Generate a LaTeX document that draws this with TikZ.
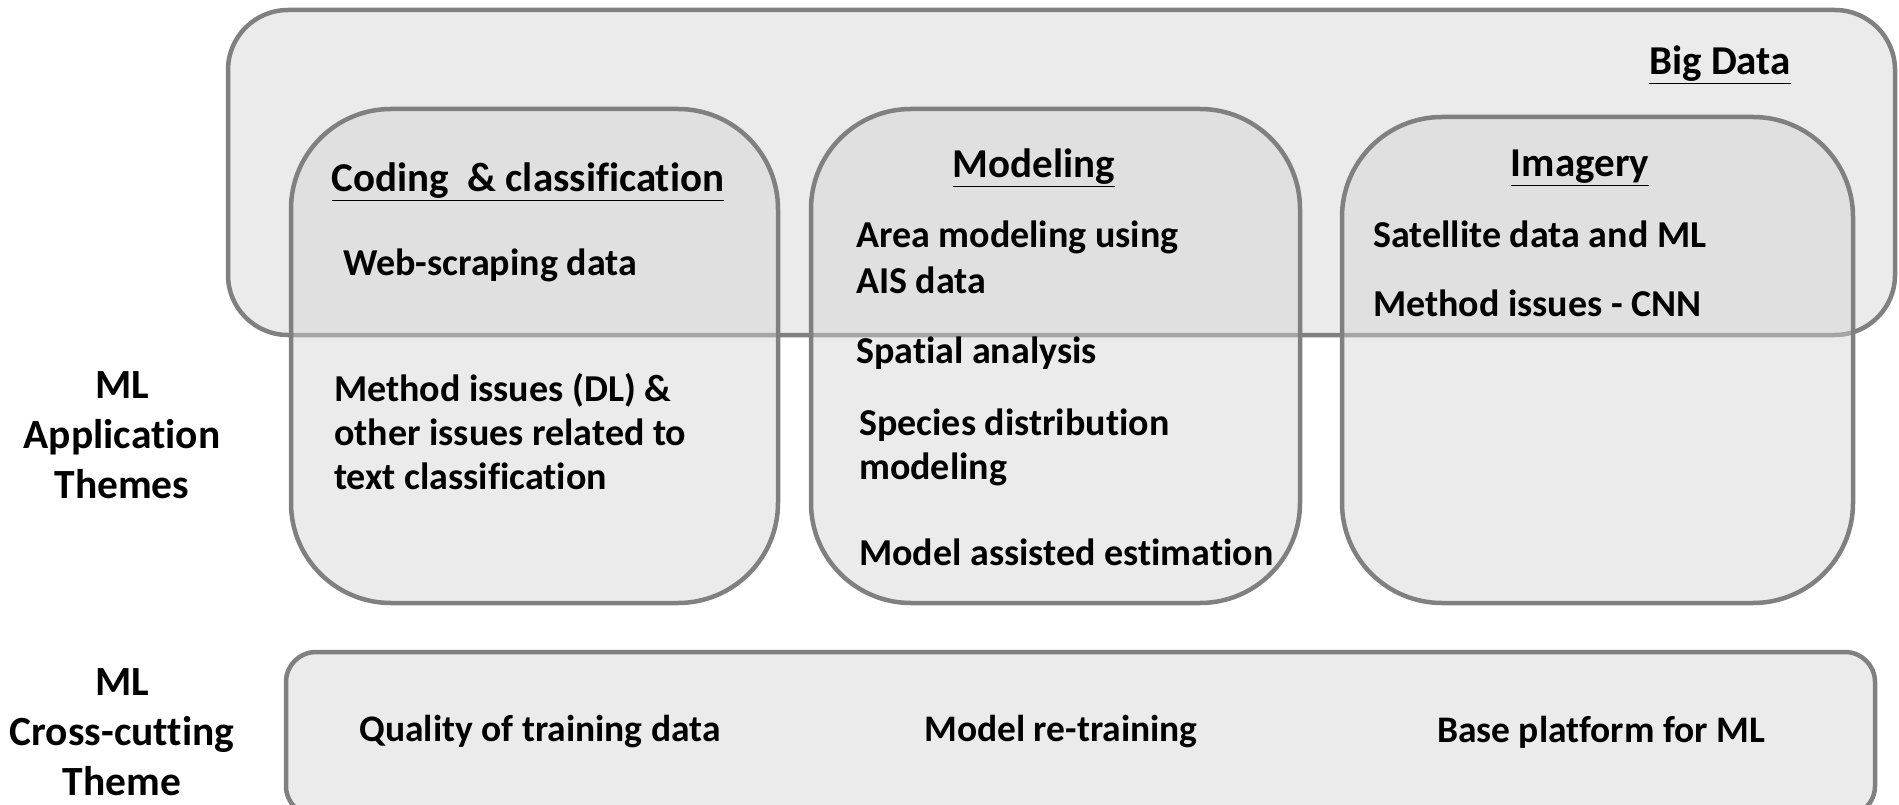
\documentclass[tikz,border=0pt]{standalone}
\usepackage{fontspec}
\setmainfont{Carlito}[Ligatures={NoCommon}]
\definecolor{boxline}{RGB}{128,128,128}
\definecolor{bgfill}{RGB}{235,235,235}
\definecolor{innerfill}{RGB}{211,211,211}
\begin{document}
\begin{tikzpicture}[x=1pt,y=-1pt,
  bigbox/.style={draw=boxline, line width=4.5pt, fill=bgfill, rounded corners=60pt, inner sep=0pt},
  inbox/.style={draw=boxline, line width=4.5pt, fill=innerfill, fill opacity=0.45, draw opacity=1, rounded corners=100pt, inner sep=0pt},
  crossbox/.style={draw=boxline, line width=4.5pt, fill=bgfill, rounded corners=30pt, inner sep=0pt},
  txt/.style={font=\fontsize{38}{44}\selectfont\bfseries, anchor=west, inner sep=0pt, align=left},
  ctxt/.style={font=\fontsize{37.5}{44}\selectfont\bfseries, inner sep=0pt},
  ttl/.style={font=\fontsize{41}{48}\selectfont\bfseries, inner sep=0pt},
  lbl/.style={font=\fontsize{41.5}{50}\selectfont\bfseries, align=center, inner sep=0pt}]
\useasboundingbox (0,0) rectangle (1899,805);
\clip (0,0) rectangle (1899,805);

% Big Data box
\node[bigbox, minimum width=1667pt, minimum height=325pt] (bigdata) at (1061.5,172.5) {};
\node[ttl] (bigdatat) at (1720,65) {\underline{Big Data}};

% inner theme boxes
\node[inbox, minimum width=487pt, minimum height=494pt] (coding) at (534.5,356) {};
\node[inbox, minimum width=489pt, minimum height=494pt] (modeling) at (1055.5,356) {};
\node[inbox, minimum width=511pt, minimum height=486pt] (imagery) at (1597.5,360) {};

% cross-cutting box
\node[crossbox, minimum width=1589pt, minimum height=164pt] (cross) at (1080.5,734) {};

% titles
\node[ttl] (codingt) at (528,182) {\underline{Coding\ \ \& classification}};
\node[ttl] (modelingt) at (1034,168) {\underline{Modeling}};
\node[ttl] (imageryt) at (1580,168) {\underline{Imagery}};

% coding items
\node[txt] (web) at (343,265) {Web-scraping data};
\node[txt] (methdl) at (334,432) {Method issues (DL) \&\\other issues related to\\text classification};

% modeling items
\node[txt, font=\fontsize{38}{46}\selectfont\bfseries] (area) at (856,257) {Area modeling using\\AIS data};
\node[txt] (spatial) at (856,353) {Spatial analysis};
\node[txt] (species) at (859,447) {Species distribution\\modeling};
\node[txt] (mae) at (859,552) {Model assisted estimation};

% imagery items
\node[txt] (sat) at (1373,234) {Satellite data and ML};
\node[txt] (cnn) at (1373,303) {Method issues - CNN};

% cross-cutting items
\node[ctxt] (quality) at (540,732) {Quality of training data};
\node[ctxt] (retrain) at (1061,732) {Model re-training};
\node[ctxt] (platform) at (1601,732) {Base platform for ML};

% side labels
\node[lbl] (applab) at (122,435) {ML\\Application\\Themes};
\node[lbl] (crosslab) at (122,732) {ML\\Cross-cutting\\Theme};
\end{tikzpicture}
\end{document}
